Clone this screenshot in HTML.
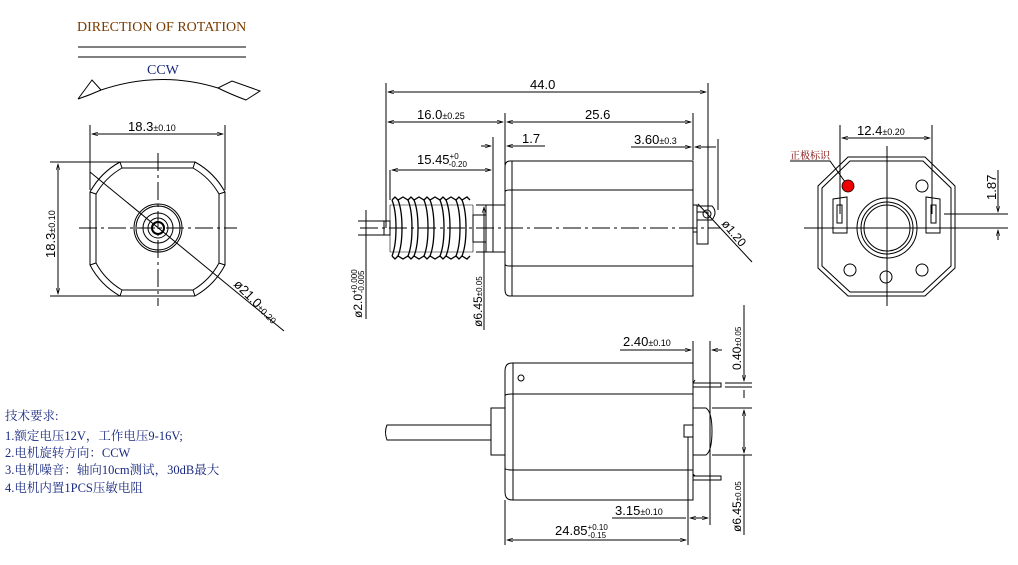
<!DOCTYPE html>
<html><head><meta charset="utf-8"><style>
html,body{margin:0;padding:0;background:#fff;}
svg{display:block}
text{font-family:"Liberation Sans","Noto Sans CJK SC",sans-serif;fill:#000}
.s{font-family:"Liberation Serif","Noto Serif CJK SC",serif}
</style></head><body>
<svg width="1018" height="565" viewBox="0 0 1018 565" xmlns="http://www.w3.org/2000/svg">
<defs><marker id="a" viewBox="0 0 10 10" refX="10" refY="5" markerWidth="8" markerHeight="6" orient="auto-start-reverse"><path d="M0,2 L10,5 L0,8" fill="none" stroke="#000" stroke-width="1"/></marker></defs>
<g stroke="#000" fill="none" stroke-width="1">
<line x1="78" y1="47" x2="246" y2="47"/><line x1="78" y1="57" x2="246" y2="57"/>
<path d="M78,99 L92,80 L101,90 Q160,70 218,88 L232,81 L260,91 L246,100 Q230,94 218,88"/>
<path d="M78,99 Q90,95 101,90"/>
<path d="M120,162 L195,162 A76 76 0 0 1 225,192 L225,265 A76 76 0 0 1 195,296 L120,296 A76 76 0 0 1 90,265 L90,192 A76 76 0 0 1 120,162 Z"/>
<path d="M122,168 L193,168 A70 70 0 0 1 219,194 L219,263 A70 70 0 0 1 193,290 L122,290 A70 70 0 0 1 96,263 L96,194 A70 70 0 0 1 122,168 Z"/>
<line x1="120" y1="162" x2="122" y2="168"/><line x1="195" y1="162" x2="193" y2="168"/>
<line x1="225" y1="192" x2="219" y2="194"/><line x1="225" y1="265" x2="219" y2="263"/>
<line x1="195" y1="296" x2="193" y2="290"/><line x1="120" y1="296" x2="122" y2="290"/>
<line x1="90" y1="265" x2="96" y2="263"/><line x1="90" y1="192" x2="96" y2="194"/>
<circle cx="158" cy="228" r="24"/><circle cx="158" cy="228" r="22"/><circle cx="158" cy="228" r="15"/><circle cx="158" cy="228" r="10"/><circle cx="158" cy="228" r="6" stroke-width="2"/>
<line x1="79" y1="228" x2="237" y2="228" stroke-dasharray="18,4,3,4"/>
<line x1="158" y1="153" x2="158" y2="306" stroke-dasharray="18,4,3,4"/>
<line x1="90" y1="172" x2="284" y2="331"/>
<line x1="90" y1="125" x2="90" y2="190"/><line x1="225" y1="125" x2="225" y2="190"/>
<line x1="92" y1="134" x2="223" y2="134" marker-start="url(#a)" marker-end="url(#a)"/>
<line x1="50" y1="162" x2="120" y2="162"/><line x1="50" y1="296" x2="120" y2="296"/>
<line x1="58" y1="164" x2="58" y2="294" marker-start="url(#a)" marker-end="url(#a)"/>
<line x1="386" y1="83" x2="386" y2="228"/><line x1="708" y1="83" x2="708" y2="210"/>
<line x1="388" y1="92" x2="706" y2="92" marker-start="url(#a)" marker-end="url(#a)"/>
<line x1="505" y1="113" x2="505" y2="165"/><line x1="693" y1="113" x2="693" y2="160"/>
<line x1="388" y1="122" x2="503" y2="122" marker-start="url(#a)" marker-end="url(#a)"/>
<line x1="507" y1="122" x2="691" y2="122" marker-start="url(#a)" marker-end="url(#a)"/>
<line x1="493" y1="137" x2="493" y2="210"/><line x1="481" y1="146" x2="491" y2="146" marker-end="url(#a)"/>
<line x1="507" y1="146" x2="545" y2="146" marker-start="url(#a)"/>
<line x1="631" y1="147" x2="691" y2="147" marker-end="url(#a)"/><line x1="718" y1="139" x2="718" y2="210"/>
<line x1="695" y1="147" x2="716" y2="147" marker-start="url(#a)"/>
<line x1="390" y1="170" x2="390" y2="200"/><line x1="392" y1="170" x2="491" y2="170" marker-start="url(#a)" marker-end="url(#a)"/>
<path d="M510,161 L693,161 L693,296 L510,296 Q505,296 505,290 L505,167 Q505,161 510,161 Z"/>
<line x1="512" y1="161" x2="512" y2="296"/>
<path d="M505,192 Q505,190 510,190 L693,190 M505,264 Q505,266 510,266 L693,266"/>
<rect x="493" y="205" width="12" height="47"/><rect x="486" y="205" width="7" height="47"/>
<rect x="473" y="215" width="13" height="27"/>
<rect x="384" y="221" width="6" height="14"/>
<path d="M390,205 L473,205 M390,252 L473,252 M390,205 L390,252 M473,205 L473,252" stroke-width="0.6"/>
<g stroke-width="1.3">
<path d="M392,200 q4,10 4,28 q0,18 -4,28 M408,200 q4,10 4,28 q0,18 -4,28 M424,200 q4,10 4,28 q0,18 -4,28 M440,200 q4,10 4,28 q0,18 -4,28 M456,200 q4,10 4,28 q0,18 -4,28"/>
<path d="M398,200 q4,10 4,28 q0,18 -4,28 M414,200 q4,10 4,28 q0,18 -4,28 M430,200 q4,10 4,28 q0,18 -4,28 M446,200 q4,10 4,28 q0,18 -4,28 M462,200 q4,10 4,28 q0,18 -4,28"/>
<path d="M392,200 l3,-3 l3,3 l5,-3 l5,3 l3,-3 l3,3 l5,-3 l5,3 l3,-3 l3,3 l5,-3 l5,3 l3,-3 l3,3 l5,-3 l5,3 l3,-3 l3,3 l5,-3 l3,3"/>
<path d="M392,256 l3,3 l3,-3 l5,3 l5,-3 l3,3 l3,-3 l5,3 l5,-3 l3,3 l3,-3 l5,3 l5,-3 l3,3 l3,-3 l5,3 l5,-3 l3,3 l3,-3 l5,3 l3,-3"/>
</g>
<line x1="360" y1="228" x2="720" y2="228" stroke-dasharray="18,4,3,4"/>
<rect x="693" y="205" width="4" height="27"/><path d="M697,206 L712,206 Q718,212 712,220 L697,220"/>
<circle cx="707" cy="214" r="4"/><line x1="698" y1="204" x2="752" y2="262"/>
<rect x="697" y="212" width="11" height="32"/>
<line x1="358" y1="221" x2="384" y2="221"/><line x1="358" y1="235" x2="384" y2="235"/>
<line x1="366" y1="210" x2="366" y2="319"/>
<line x1="476" y1="205" x2="492" y2="205"/><line x1="476" y1="252" x2="492" y2="252"/>
<line x1="484" y1="207" x2="484" y2="330" marker-start="url(#a)"/>
<path d="M848,157 L925,157 L955,186 L955,268 L925,296 L848,296 L818,268 L818,186 Z"/>
<path d="M850,161 L923,161 L951,188 L951,266 L923,292 L850,292 L822,266 L822,188 Z"/>
<path d="M833,199 L847,197 L847,233 L833,233 Z M940,199 L926,197 L926,233 L940,233 Z"/>
<rect x="837" y="205" width="5" height="18"/><rect x="931" y="205" width="5" height="18"/>
<circle cx="887" cy="228" r="30"/><circle cx="887" cy="228" r="26"/><circle cx="887" cy="228" r="23"/>
<circle cx="922" cy="186" r="6"/><circle cx="850" cy="270" r="6"/><circle cx="922" cy="270" r="6"/><circle cx="886" cy="277" r="6"/>
<line x1="887" y1="146" x2="887" y2="306"/><line x1="804" y1="228" x2="970" y2="228"/>
<line x1="840" y1="125" x2="840" y2="214"/><line x1="932" y1="125" x2="932" y2="214"/>
<line x1="842" y1="138" x2="930" y2="138" marker-start="url(#a)" marker-end="url(#a)"/>
<line x1="944" y1="214" x2="1008" y2="214"/><line x1="969" y1="228" x2="1008" y2="228"/>
<line x1="998" y1="170" x2="998" y2="212" marker-end="url(#a)"/><line x1="998" y1="240" x2="998" y2="230" marker-end="url(#a)"/>
<path d="M790,161 L830,161 L848,186"/>
<path d="M512,363 L693,363 L693,500 L512,500 Q505,500 505,492 L505,371 Q505,363 512,363 Z"/>
<line x1="513" y1="363" x2="513" y2="500"/>
<path d="M505,396 Q505,394 512,394 L693,394 M505,468 Q505,470 512,470 L693,470"/>
<path d="M387,425 L491,425 L491,440 L387,440 Q384,432 387,425 Z"/>
<rect x="491" y="408" width="14" height="47"/>
<path d="M693,408 L706,408 Q712,412 712,431 Q712,451 706,455 L693,455"/>
<rect x="684" y="425" width="9" height="12"/><line x1="688" y1="437" x2="688" y2="545"/>
<path d="M693,383 L721,383 L721,387 L693,387 M693,476 L721,476 L721,480 L693,480"/>
<path d="M695,380 L693,383 M695,476 L693,474"/>
<circle cx="521" cy="378" r="3"/>
<line x1="693" y1="341" x2="693" y2="363"/><line x1="710" y1="341" x2="710" y2="525"/>
<line x1="620" y1="350" x2="691" y2="350" marker-end="url(#a)"/><line x1="712" y1="350" x2="722" y2="350" marker-start="url(#a)"/>
<line x1="744" y1="305" x2="744" y2="381" marker-end="url(#a)"/>
<line x1="744" y1="390" x2="744" y2="398"/>
<line x1="725" y1="383" x2="752" y2="383"/><line x1="725" y1="387" x2="752" y2="387"/>
<line x1="712" y1="408" x2="752" y2="408"/><line x1="712" y1="455" x2="752" y2="455"/>
<line x1="744" y1="410" x2="744" y2="453" marker-start="url(#a)" marker-end="url(#a)"/>
<line x1="744" y1="455" x2="744" y2="535"/>
<line x1="612" y1="518" x2="686" y2="518"/><line x1="690" y1="518" x2="708" y2="518" marker-start="url(#a)" marker-end="url(#a)"/>
<line x1="505" y1="500" x2="505" y2="545"/>
<line x1="507" y1="540" x2="686" y2="540" marker-start="url(#a)" marker-end="url(#a)"/>
</g>
<circle cx="848" cy="186" r="6" fill="#e00" stroke="#000" stroke-width="0.8"/>
<text class="s" x="77" y="31" font-size="14" style="fill:#7a3a00">DIRECTION OF ROTATION</text>
<text class="s" x="147" y="74" font-size="14" style="fill:#1a2a80">CCW</text>
<text x="128" y="131" font-size="13">18.3<tspan font-size="9">±0.10</tspan></text>
<text x="0" y="0" font-size="13" transform="translate(55,258) rotate(-90)">18.3<tspan font-size="9">±0.10</tspan></text>
<text x="0" y="0" font-size="13" transform="translate(233,285) rotate(45)">ø21.0<tspan font-size="9">±0.20</tspan></text>
<text x="530" y="89" font-size="13">44.0</text>
<text x="417" y="119" font-size="13">16.0<tspan font-size="9">±0.25</tspan></text>
<text x="585" y="119" font-size="13">25.6</text>
<text x="522" y="143" font-size="13">1.7</text>
<text x="634" y="144" font-size="13">3.60<tspan font-size="9">±0.3</tspan></text>
<text x="417" y="164" font-size="13">15.45<tspan font-size="8" dy="-5">+0</tspan><tspan font-size="8" dx="-10" dy="8">-0.20</tspan></text>
<text x="0" y="0" font-size="12" transform="translate(721,224) rotate(50)">ø1.20</text>
<text x="0" y="0" font-size="12" transform="translate(362,318) rotate(-90)">ø2.0<tspan font-size="8" dy="-5">+0.000</tspan><tspan font-size="8" dx="-24" dy="7">-0.005</tspan></text>
<text x="0" y="0" font-size="12" transform="translate(482,327) rotate(-90)">ø6.45<tspan font-size="8">±0.05</tspan></text>
<text x="857" y="135" font-size="13">12.4<tspan font-size="9">±0.20</tspan></text>
<text class="s" x="790" y="159" font-size="10" style="fill:#7a0000">正极标识</text>
<text x="0" y="0" font-size="13" transform="translate(996,200) rotate(-90)">1.87</text>
<text x="623" y="346" font-size="13">2.40<tspan font-size="9">±0.10</tspan></text>
<text x="0" y="0" font-size="12" transform="translate(741,370) rotate(-90)">0.40<tspan font-size="8">±0.05</tspan></text>
<text x="0" y="0" font-size="12" transform="translate(741,532) rotate(-90)">ø6.45<tspan font-size="8">±0.05</tspan></text>
<text x="615" y="515" font-size="13">3.15<tspan font-size="9">±0.10</tspan></text>
<text x="555" y="535" font-size="13">24.85<tspan font-size="8" dy="-5">+0.10</tspan><tspan font-size="8" dx="-20" dy="8">-0.15</tspan></text>
<g font-size="12.5">
<text class="s" x="5" y="420" style="fill:#1a2a80">技术要求:</text>
<text class="s" x="5" y="440" style="fill:#1a2a80">1.额定电压12V，工作电压9-16V;</text>
<text class="s" x="5" y="457" style="fill:#1a2a80">2.电机旋转方向：CCW</text>
<text class="s" x="5" y="474" style="fill:#1a2a80">3.电机噪音：轴向10cm测试，30dB最大</text>
<text class="s" x="5" y="492" style="fill:#1a2a80">4.电机内置1PCS压敏电阻</text>
</g>
</svg>
</body></html>
